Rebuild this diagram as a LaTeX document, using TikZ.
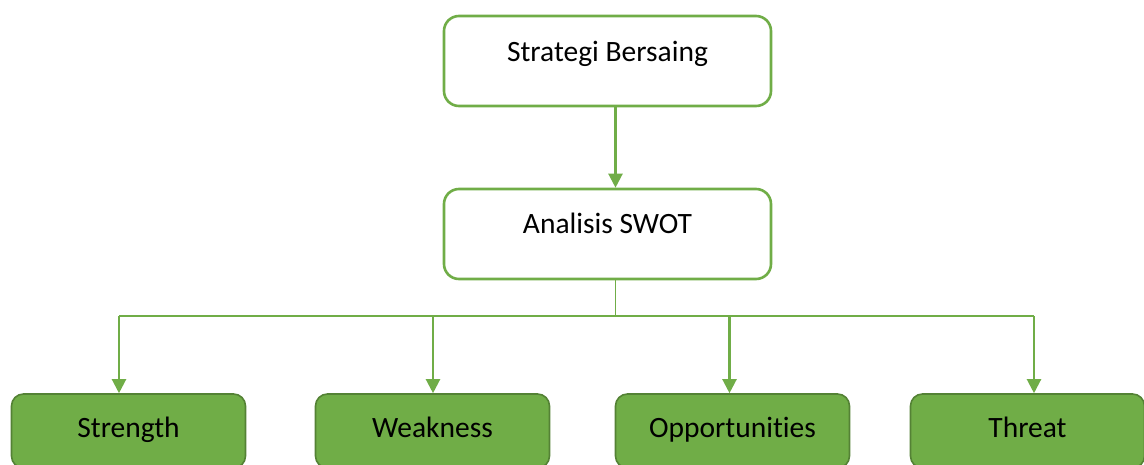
\documentclass[tikz,border=0pt]{standalone}
\usepackage{fontspec}
\setmainfont{Carlito}[Ligatures={NoCommon}]
\usetikzlibrary{arrows.meta}
\definecolor{gr}{HTML}{70AD47}
\definecolor{grdark}{HTML}{548235}
\tikzset{
  topbox/.style={draw=gr, line width=2.6pt, fill=white, rounded corners=15pt, minimum width=327pt, minimum height=90pt, inner sep=0pt},
  leaf/.style={draw=grdark, line width=1.6pt, fill=gr, rounded corners=12pt, minimum width=234pt, minimum height=74pt, inner sep=0pt, text height=18pt, text depth=6pt, font=\fontsize{29.5}{34}\selectfont},
  lbl/.style={font=\fontsize{29.5}{34}\selectfont, inner sep=0pt, anchor=base},
  conn/.style={draw=gr, line width=2.2pt, -{Triangle[width=14pt,length=14pt]}},
  bus/.style={draw=gr, line width=1.3pt}
}
\begin{document}
\begin{tikzpicture}[x=1pt,y=-1pt]
\useasboundingbox (0,0) rectangle (1144,464);
\clip (0,0) rectangle (1144,464);
\node[topbox] (strat) at (607.5,61) {};
\node[lbl] (stratt) at (607.5,61) {Strategi Bersaing};
\node[topbox] (swot) at (607.5,234) {};
\node[lbl] (swott) at (607.5,233) {Analisis SWOT};
\node[leaf] (s) at (128.5,431) {Strength};
\node[leaf] (w) at (432.5,431) {Weakness};
\node[leaf] (o) at (732.5,431) {Opportunities};
\node[leaf] (t) at (1027.5,431) {Threat};
\coordinate (j) at (615.5,316);
\coordinate (js) at (119,316);
\coordinate (jw) at (433,316);
\coordinate (jo) at (729.5,316);
\coordinate (jt) at (1034,316);
\draw[conn] (strat.south -| j) -- (swot.north -| j);
\draw[bus] (swot.south -| j) -- (j);
\draw[bus] (js) -- (jt);
\draw[conn] (js) -- (s.north -| js);
\draw[conn] (jw) -- (w.north -| jw);
\draw[conn] (jo) -- (o.north -| jo);
\draw[conn] (jt) -- (t.north -| jt);
\end{tikzpicture}
\end{document}
